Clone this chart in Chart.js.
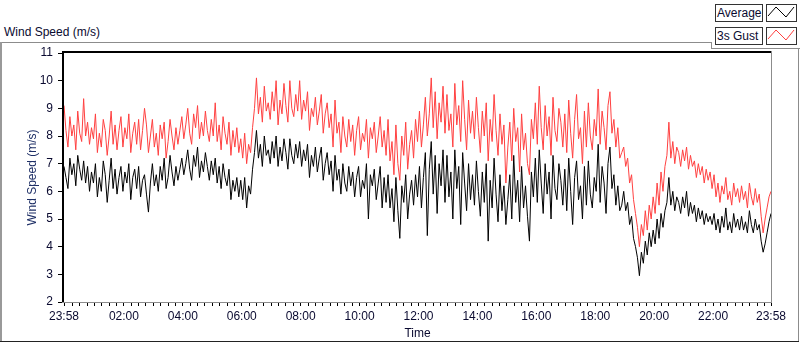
<!DOCTYPE html>
<html>
<head>
<meta charset="utf-8">
<script src="https://cdn.jsdelivr.net/npm/chart.js@4.4.0/dist/chart.umd.min.js"></script>
<style>
  body { margin: 0; background: #fff; }
  #wrap { position: relative; width: 800px; height: 342px; overflow: hidden;
          font-family: 'Liberation Sans', Arial, sans-serif; font-size: 12px; color: #0a0a30; }
  .ln { position: absolute; background: #8c8c8c; }
  #caption { position: absolute; left: 4px; top: 25px; white-space: nowrap; }
  .lg { position: absolute; left: 715px; width: 48px; height: 18px; box-sizing: border-box;
        border: 1px solid #333; line-height: 16px; padding-left: 1px; white-space: nowrap; }
  .ic { position: absolute; left: 766px; width: 31px; height: 18px; box-sizing: border-box;
        border: 1px solid #333; }
  .ic svg { position: absolute; left: 0; top: 0; }
  canvas { position: absolute; left: 0; top: 0; }
</style>
</head>
<body>
<div id="wrap">
  <div class="ln" style="left:0;top:42px;width:712px;height:1px"></div>
  <div class="ln" style="left:711px;top:42px;width:1px;height:7px"></div>
  <div class="ln" style="left:711px;top:48px;width:89px;height:1px"></div>
  <div class="ln" style="left:0;top:42px;width:2px;height:300px;background:#999"></div>
  <div class="ln" style="left:798px;top:48px;width:1px;height:294px"></div>
  <div class="ln" style="left:0;top:341px;width:799px;height:1px;background:#222"></div>

  <div id="caption">Wind Speed (m/s)</div>

  <div class="lg" style="top:4px">Average</div>
  <div class="ic" style="top:4px"><svg width="29" height="16"><polyline points="1,11 9,2 19,12 27,2" fill="none" stroke="#000" stroke-width="1"/></svg></div>
  <div class="lg" style="top:27px">3s Gust</div>
  <div class="ic" style="top:27px"><svg width="29" height="16"><polyline points="1,11 9,2 19,12 27,2" fill="none" stroke="#ff4040" stroke-width="1"/></svg></div>

  <canvas id="chart" width="800" height="342"></canvas>
</div>

<script>
// minutes after 23:58, one reading every 4 minutes
const minutes = [];
for (let i = 0; i <= 360; i++) minutes.push(i * 4);

// 3s gust (m/s), one row per hour
const gust = [
  9.1, 8.2, 7.6, 8.7, 8.0, 8.4, 7.5, 8.9, 8.1, 7.8, 9.35, 8.0, 8.5, 7.7, 8.3,
  7.9, 8.8, 7.4, 8.1, 7.6, 8.6, 8.2, 7.3, 8.0, 8.9, 7.7, 8.4, 7.5, 8.2, 8.7,
  7.6, 8.3, 7.9, 8.8, 7.4, 8.1, 8.5, 7.7, 8.6, 7.5, 8.2, 9.0, 8.4, 7.4, 8.0,
  8.6, 7.6, 8.1, 7.3, 8.4, 7.9, 8.5, 7.2, 7.8, 8.6, 8.0, 7.5, 8.3, 7.7, 8.2,
  8.7, 7.9, 8.4, 9.0, 8.1, 7.7, 8.8, 8.3, 9.1, 7.9, 8.5, 8.0, 8.9, 8.2, 7.8,
  8.6, 8.0, 9.2, 7.8, 8.4, 7.5, 8.7, 8.1, 7.7, 8.5, 7.3, 8.2, 7.6, 8.3, 7.4,
  7.9, 7.2, 8.1, 7.0, 7.7, 7.4, 8.3, 9.0, 10.1, 8.8, 9.4, 8.5, 9.8, 8.9, 9.2,
  8.6, 9.6, 8.9, 10.0, 8.4, 9.3, 8.8, 9.9, 9.1, 8.5, 10.0, 9.0, 8.7, 9.5, 8.9,
  10.0, 8.6, 9.3, 8.9, 9.6, 8.2, 9.0, 8.7, 9.4, 8.4, 8.9, 9.5, 8.1, 8.8, 9.2,
  8.3, 8.8, 7.6, 9.3, 8.1, 8.5, 7.4, 8.7, 8.0, 7.6, 8.6, 7.8, 8.4, 7.3, 8.2,
  8.7, 7.5, 8.1, 7.8, 8.6, 7.2, 8.3, 7.9, 8.5, 7.4, 8.0, 8.7, 7.6, 8.2, 7.3,
  8.6, 7.1, 7.8, 6.6, 8.4, 7.0, 6.4, 8.0, 7.3, 8.5, 6.8, 7.7, 8.2, 7.2, 8.6,
  7.8, 8.9, 7.6, 8.4, 9.4, 8.0, 8.8, 10.1, 8.3, 9.6, 7.9, 9.2, 8.5, 9.8, 8.1,
  9.5, 8.2, 8.8, 7.6, 9.9, 8.4, 9.1, 7.8, 10.0, 8.6, 7.5, 9.3, 8.1, 8.9, 7.9,
  9.4, 8.3, 7.4, 8.9, 8.0, 9.2, 7.1, 8.6, 7.8, 9.5, 8.2, 7.3, 8.8, 7.7, 8.4,
  6.3, 7.6, 8.5, 7.1, 9.0, 7.8, 8.3, 6.7, 8.8, 7.5, 8.1, 7.0, 6.6, 8.6, 7.9,
  9.2, 7.7, 9.8, 8.3, 7.5, 9.1, 8.0, 8.7, 7.3, 9.4, 8.2, 7.8, 9.0, 8.5, 7.6,
  8.8, 7.4, 9.3, 8.1, 7.2, 8.6, 9.5, 7.9, 8.3, 7.0, 8.9, 7.6, 9.2, 8.0, 7.5,
  8.6, 8.0, 9.7, 7.7, 8.9, 8.3, 7.5, 9.1, 9.6, 8.1, 8.6, 7.6, 8.3, 7.2, 7.4,
  7.6, 6.9, 7.2, 6.3, 6.6, 5.7, 5.2, 4.7, 4.0, 4.8, 4.4, 5.3, 4.6, 5.5, 5.0,
  5.8, 5.2, 6.3, 5.5, 6.7, 6.0, 6.9, 7.3, 8.5, 7.2, 7.8, 7.0, 7.6, 7.4, 6.9,
  7.5, 7.1, 7.6, 6.8, 7.3, 6.9, 7.1, 6.5, 7.0, 6.6, 6.9, 6.3, 6.8, 6.4, 6.7,
  6.1, 6.6, 5.8, 6.3, 5.6, 6.2, 5.9, 6.5, 5.7, 6.0, 5.5, 6.3, 5.8, 6.1, 5.6,
  6.2, 5.7, 6.0, 5.4, 6.3, 5.8, 5.5, 6.1, 5.6, 5.9, 5.1, 4.5, 5.0, 5.4, 5.8,
  6.0
];

// average (m/s)
const average = [
  6.9, 6.5, 6.1, 7.2, 6.6, 7.0, 6.2, 7.3, 6.8, 6.4, 7.1, 6.3, 6.9, 6.0, 6.7,
  6.3, 7.0, 5.8, 6.5, 6.0, 7.1, 6.6, 5.6, 6.4, 7.2, 6.1, 6.8, 5.9, 6.5, 6.9,
  6.0, 6.7, 6.3, 7.0, 5.7, 6.5, 6.8, 6.1, 6.9, 5.8, 6.4, 6.6, 5.9, 5.25, 6.3,
  7.0, 6.2, 6.6, 6.0, 6.9, 6.4, 7.2, 6.1, 6.5, 7.3, 6.7, 6.2, 6.9, 6.4, 6.8,
  7.2, 6.6, 7.0, 7.5, 6.8, 6.4, 7.3, 6.9, 7.6, 6.5, 7.1, 6.7, 7.4, 6.9, 6.4,
  7.1, 6.6, 7.2, 6.3, 6.9, 6.1, 7.0, 6.5, 6.2, 6.8, 5.7, 6.4, 6.0, 6.5, 5.8,
  6.4, 5.7, 6.5, 5.4, 6.2, 5.9, 6.8, 7.4, 8.2, 7.2, 7.7, 6.9, 8.0, 7.3, 7.5,
  7.0, 7.8, 7.2, 8.0, 6.9, 7.6, 7.1, 7.9, 7.4, 6.8, 7.9, 7.3, 7.0, 7.7, 7.2,
  7.8, 6.9, 7.5, 7.1, 7.7, 6.5, 7.3, 6.9, 7.6, 6.7, 7.2, 7.6, 6.4, 7.0, 7.4,
  6.6, 7.1, 6.0, 7.3, 6.4, 6.8, 5.9, 7.0, 6.3, 6.0, 6.9, 6.2, 6.7, 5.8, 6.5,
  6.9, 5.8, 6.4, 6.1, 7.0, 5.0, 6.6, 6.2, 6.8, 5.7, 6.3, 6.9, 5.4, 6.5, 5.6,
  6.6, 5.4, 6.1, 4.9, 6.5, 5.3, 4.3, 6.2, 5.6, 6.6, 5.0, 5.9, 6.4, 5.5, 6.6,
  5.8, 6.9, 5.4, 6.5, 7.4, 4.4, 6.8, 7.8, 5.9, 7.3, 5.2, 7.0, 6.2, 7.5, 5.6,
  7.3, 5.8, 6.7, 5.0, 7.5, 6.1, 6.9, 4.8, 7.4, 6.3, 5.3, 7.0, 5.7, 6.6, 5.5,
  7.1, 6.0, 5.1, 6.7, 5.6, 7.0, 4.2, 6.4, 5.4, 7.2, 5.9, 4.9, 6.6, 5.3, 6.2,
  4.8, 5.7, 6.6, 5.0, 7.3, 5.6, 6.4, 4.9, 6.9, 5.4, 6.2, 5.1, 4.2, 6.7, 5.8,
  7.2, 5.6, 7.5, 6.3, 5.2, 7.0, 5.9, 6.7, 5.0, 7.3, 6.1, 5.7, 7.0, 6.4, 5.5,
  6.8, 5.3, 7.2, 6.0, 4.8, 6.5, 7.1, 5.7, 6.2, 5.0, 6.9, 5.5, 7.1, 5.9, 5.4,
  6.5, 6.0, 7.7, 5.6, 6.9, 6.3, 5.2, 7.0, 7.6, 6.1, 6.6, 5.5, 6.2, 5.3, 5.5,
  6.0, 5.3, 5.6, 4.8, 5.1, 4.3, 4.0, 3.6, 2.95, 3.8, 3.4, 4.2, 3.7, 4.5, 4.0,
  4.6, 4.1, 5.0, 4.3, 5.2, 4.7, 5.3, 5.6, 6.5, 5.5, 6.0, 5.3, 5.8, 5.6, 5.2,
  5.8, 5.4, 6.0, 5.1, 5.6, 5.2, 5.5, 4.9, 5.4, 5.0, 5.3, 4.8, 5.2, 4.9, 5.1,
  4.8, 5.2, 4.6, 5.0, 4.5, 5.1, 4.7, 5.4, 4.6, 4.9, 4.5, 5.2, 4.7, 5.0, 4.6,
  5.1, 4.6, 4.9, 4.5, 5.3, 4.8, 4.5, 5.0, 4.6, 4.8, 4.2, 3.8, 4.1, 4.5, 4.9,
  5.2
];

// x axis labels and where they sit (minutes after 23:58)
const timeLabels = ['23:58', '02:00', '04:00', '06:00', '08:00', '10:00', '12:00',
                    '14:00', '16:00', '18:00', '20:00', '22:00', '23:58'];
const labelMinutes = [0, 122, 242, 362, 482, 602, 722, 842, 962, 1082, 1202, 1322, 1440];

// small ticks every quarter hour
const tickMinutes = labelMinutes.slice();
for (let m = 17; m < 1440; m += 15) {
  if (!tickMinutes.includes(m)) tickMinutes.push(m);
}
tickMinutes.sort((a, b) => a - b);

const font = { family: "'Liberation Sans', Arial, sans-serif", size: 12 };
const ink = '#0a0a30';

const frame = {
  id: 'frame',
  beforeDatasetsDraw(chart) {
    const { ctx, chartArea: a } = chart;
    ctx.save();
    ctx.fillStyle = '#000';
    ctx.fillRect(a.left - 2, a.top - 2, a.right - a.left + 2, 2);
    ctx.fillRect(a.left - 2, a.top - 2, 2, a.bottom - a.top + 2);
    ctx.fillStyle = '#8c8c8c';
    ctx.fillRect(a.right, a.top - 2, 1, a.bottom - a.top + 3);
    ctx.fillRect(a.left - 2, a.bottom, a.right - a.left + 3, 1);
    ctx.restore();
  }
};

new Chart(document.getElementById('chart'), {
  type: 'line',
  data: {
    datasets: [
      {
        label: 'Average',
        data: minutes.map((m, i) => ({ x: m, y: average[i] })),
        borderColor: '#000',
        borderWidth: 1,
        pointRadius: 0,
        tension: 0,
        order: 0
      },
      {
        label: '3s Gust',
        data: minutes.map((m, i) => ({ x: m, y: gust[i] })),
        borderColor: '#ff4040',
        borderWidth: 1,
        pointRadius: 0,
        tension: 0,
        order: 1
      }
    ]
  },
  options: {
    responsive: false,
    animation: false,
    devicePixelRatio: 1,
    layout: { padding: { top: 53, right: 29, left: 0, bottom: 0 } },
    plugins: { legend: { display: false }, tooltip: { enabled: false } },
    scales: {
      x: {
        type: 'linear',
        min: 0,
        max: 1440,
        afterBuildTicks(scale) {
          scale.ticks = tickMinutes.map(v => ({ value: v }));
        },
        afterFit(scale) { scale.height = 40; },
        border: { display: false },
        grid: { drawOnChartArea: false, tickLength: 4, tickColor: '#000' },
        ticks: {
          autoSkip: false,
          maxRotation: 0,
          minRotation: 0,
          padding: 3,
          font: font,
          color: ink,
          callback(value) {
            const k = labelMinutes.indexOf(value);
            return k >= 0 ? timeLabels[k] : '';
          }
        },
        title: { display: true, text: 'Time', font: font, color: ink, padding: { top: 0, bottom: 1 } }
      },
      y: {
        min: 2,
        max: 11,
        afterFit(scale) { scale.width = 64; },
        border: { display: false },
        grid: { drawOnChartArea: false, tickLength: 6, tickColor: '#000' },
        ticks: { stepSize: 1, padding: 5, font: font, color: ink },
        title: { display: true, text: 'Wind Speed (m/s)', font: font, color: '#1e2f66', padding: { top: 25, bottom: 0 } }
      }
    }
  },
  plugins: [frame]
});
</script>
</body>
</html>
